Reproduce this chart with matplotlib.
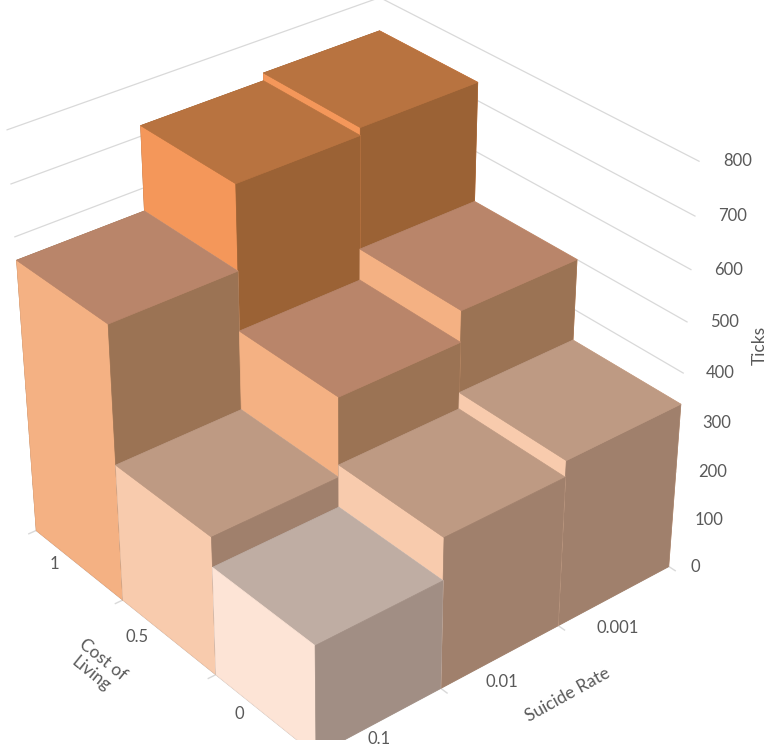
import numpy as np
import matplotlib
matplotlib.use('Agg')
import matplotlib.pyplot as plt
from mpl_toolkits.mplot3d import proj3d

########## Data ##########
cost_labels = ['1', '0.5', '0']          # Cost of Living (back -> front)
rate_labels = ['0.1', '0.01', '0.001']   # Suicide Rate (front -> back)
ticks = np.array([[555, 720, 735],
                  [280, 438, 500],
                  [220, 305, 338]])
z_ticks = [0, 100, 200, 300, 400, 500, 600, 700, 800]

########## Colour bands (left face , top , right face) ##########
band_edges = [240, 400, 650]
left_cols = ['#FDE4D6', '#F8CBAD', '#F4B183', '#F4975A']
top_cols = ['#BFADA3', '#BE9A83', '#B9856A', '#B87340']
right_cols = ['#A18E84', '#A0806C', '#9B7354', '#9B6235']

grid_col = '#D9D9D9'
txt_col = '#595959'
plt.rcParams['font.family'] = ['Lato', 'DejaVu Sans']

########## Plot ##########
fig = plt.figure(figsize = (7.69 , 7.48) , dpi = 100)
ax = fig.add_axes([-0.0585 , 0.0107 , 1 , 1] , projection = '3d' , computed_zorder = False)
ax.set_proj_type('persp' , focal_length = 0.7)
ax.view_init(elev = 32.3 , azim = -39.5)
ax.set_xlim(0 , 3)
ax.set_ylim(0 , 3)
ax.set_zlim(0 , 800)
ax.set_box_aspect((3 , 3 , 3.04) , zoom = 1.06)
ax.set_axis_off()
M = ax.get_proj()

def label(x , y , z , s , **kw):
    # place a flat label at a projected 3D point
    px , py , _ = proj3d.proj_transform(x , y , z , M)
    ax.text2D(px , py , s , transform = ax.transData , color = txt_col , **kw)

# back wall gridlines
for z in z_ticks[1:]:
    ax.plot([0 , 0 , 3] , [0 , 3 , 3] , [z , z , z] , color = grid_col , lw = 0.9 , zorder = 1)

# floor axes and tick marks
ax.plot([0 , 3] , [0 , 0] , [0 , 0] , color = grid_col , lw = 1 , zorder = 1)
ax.plot([3 , 3] , [0 , 3] , [0 , 0] , color = grid_col , lw = 1 , zorder = 1)
for k in range(4):
    ax.plot([k , k] , [0 , -0.06] , [0 , 0] , color = grid_col , lw = 1 , zorder = 1)
    ax.plot([3 , 3.06] , [k , k] , [0 , 0] , color = grid_col , lw = 1 , zorder = 1)

# bars, drawn back to front
cells = sorted([(i , j) for i in range(3) for j in range(3)] , key = lambda p: p[0] - p[1])
for cnt , (i , j) in enumerate(cells):
    v = ticks[i , j]
    b = int(np.searchsorted(band_edges , v))
    # face order: -z , +z , -y , +y , -x , +x
    fc = [top_cols[b] , top_cols[b] , left_cols[b] , left_cols[b] , right_cols[b] , right_cols[b]]
    ax.bar3d(i , j , 0 , 1 , 1 , v , color = fc , edgecolor = fc , linewidth = 0.5 ,
             shade = False , zorder = 10 + cnt)

# tick labels
for i , s in enumerate(cost_labels):
    label(i + 0.5 - 0.084 , -0.10 , 0 , s , ha = 'right' , va = 'center' , fontsize = 12)
for j , s in enumerate(rate_labels):
    t = 0.07 + 0.065 * j
    label(3 + t , j + 0.5 - 0.82 * t , 0 , s , ha = 'center' , va = 'top' , fontsize = 12)
for z in z_ticks:
    label(3 + 0.092 , 3 + 0.11 , z , str(z) , ha = 'left' , va = 'center' , fontsize = 12)

# axis titles
fig.text(97 / 769 , 1 - 667 / 748 , 'Cost of\nLiving' , rotation = -39 , ha = 'center' ,
         va = 'center' , multialignment = 'center' , fontsize = 12.5 , color = txt_col)
fig.text(568 / 769 , 1 - 695 / 748 , 'Suicide Rate' , rotation = 29 , ha = 'center' ,
         va = 'center' , fontsize = 12.5 , color = txt_col)
fig.text(760 / 769 , 1 - 345 / 748 , 'Ticks' , rotation = 90 , ha = 'center' ,
         va = 'center' , fontsize = 12.5 , color = txt_col)

fig.savefig('out.png' , dpi = 100)
